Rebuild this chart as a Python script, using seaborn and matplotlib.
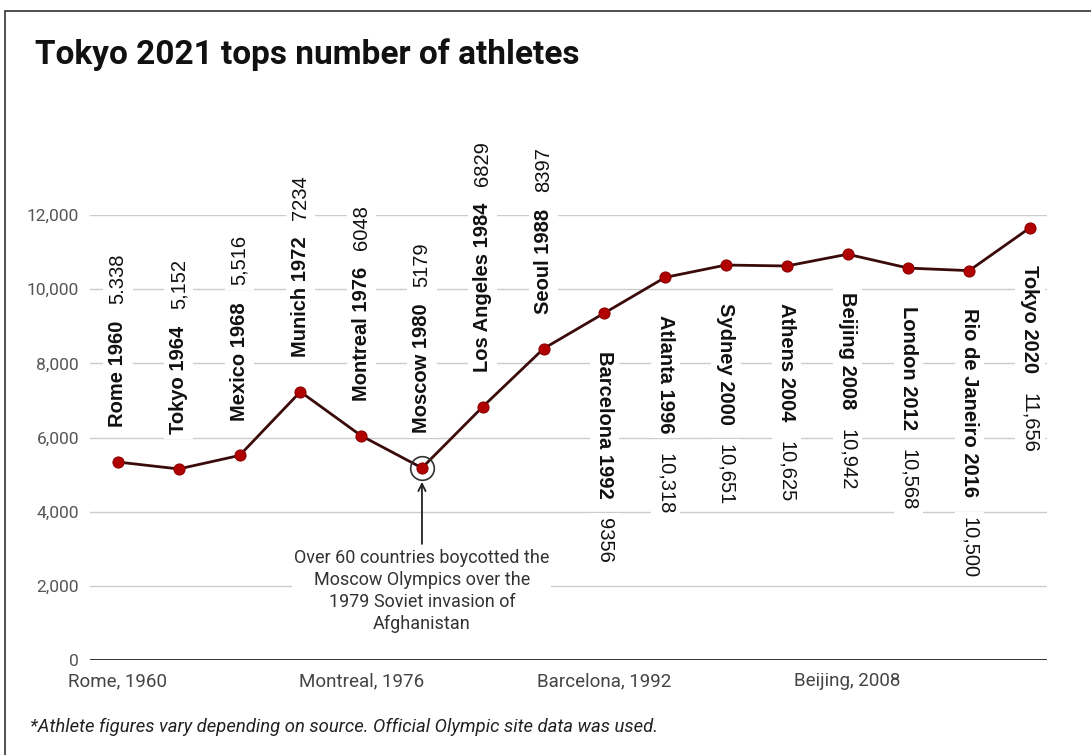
import matplotlib
matplotlib.use("Agg")
import matplotlib.pyplot as plt
import seaborn as sns
import pandas as pd
from matplotlib.patches import Rectangle

games = ["Rome 1960", "Tokyo 1964", "Mexico 1968", "Munich 1972", "Montreal 1976",
         "Moscow 1980", "Los Angeles 1984", "Seoul 1988", "Barcelona 1992",
         "Atlanta 1996", "Sydney 2000", "Athens 2004", "Beijing 2008",
         "London 2012", "Rio de Janeiro 2016", "Tokyo 2020"]
athletes = [5338, 5152, 5516, 7234, 6048, 5179, 6829, 8397, 9356,
            10318, 10651, 10625, 10942, 10568, 10500, 11656]
value_labels = ["5.338", "5,152", "5,516", "7234", "6048", "5179", "6829", "8397",
                "9356", "10,318", "10,651", "10,625", "10,942", "10,568", "10,500", "11,656"]
xtick_pos = [0, 4, 8, 12]
xtick_labels = ["Rome, 1960", "Montreal, 1976", "Barcelona, 1992", "Beijing, 2008"]
yticks = [0, 2000, 4000, 6000, 8000, 10000, 12000]
note = "Over 60 countries boycotted the\nMoscow Olympics over the\n1979 Soviet invasion of\nAfghanistan"

df = pd.DataFrame({"idx": range(len(games)), "athletes": athletes})

sns.set_theme(style="white")
plt.rcParams['font.family'] = ['Liberation Sans', 'DejaVu Sans']

fig = plt.figure(figsize=(10.91, 7.55), dpi=100)
ax = fig.add_axes([90/1091, 1-660/755, (1047-90)/1091, (660-215)/755])

sns.lineplot(data=df, x="idx", y="athletes", ax=ax, color="#3b0b0b", linewidth=2,
             marker="o", markersize=8, markerfacecolor="#b00000",
             markeredgecolor="#8a0000", zorder=3)

ax.set_xlim(-0.46, 15.28)
ax.set_ylim(0, 12000)
ax.set_yticks(yticks)
ax.set_yticklabels([f"{v:,}" for v in yticks], fontsize=12.5, color="#555555",
                   family=["Roboto", "DejaVu Sans"])
ax.set_xticks(xtick_pos)
ax.set_xticklabels(xtick_labels, fontsize=13.5, color="#444444",
                   family=["Roboto", "DejaVu Sans"])
ax.tick_params(axis="x", length=0, pad=9)
ax.tick_params(axis="y", length=0, pad=8)
ax.set_xlabel("")
ax.set_ylabel("")
for s in ax.spines.values():
    s.set_visible(False)
ax.yaxis.grid(True, color="#cccccc", linewidth=1, zorder=0)
ax.axhline(0, color="#222222", linewidth=2, zorder=2)

fig.canvas.draw()

bbox_kw = dict(boxstyle="square,pad=0.25", facecolor="white", edgecolor="none")
for i, (name, val, lab) in enumerate(zip(games, athletes, value_labels)):
    if i < 8:
        t = ax.annotate(name, xy=(i, val), xytext=(0, 25), textcoords="offset points",
                        rotation=90, ha="center", va="bottom", fontsize=14.5,
                        fontweight="bold", color="#111111", bbox=bbox_kw, zorder=4,
                        annotation_clip=False)
        ax.annotate(lab, xy=(0.5, 1.0), xycoords=t, xytext=(0, 12),
                    textcoords="offset points", rotation=90, ha="center", va="bottom",
                    fontsize=14.5, color="#111111", bbox=bbox_kw, zorder=4,
                    annotation_clip=False)
    else:
        t = ax.annotate(name, xy=(i, val), xytext=(0, -27), textcoords="offset points",
                        rotation=-90, ha="center", va="top", fontsize=14.5,
                        fontweight="bold", color="#111111", bbox=bbox_kw, zorder=4,
                        annotation_clip=False)
        ax.annotate(lab, xy=(0.5, 0.0), xycoords=t, xytext=(0, -14),
                    textcoords="offset points", rotation=-90, ha="center", va="top",
                    fontsize=14.5, color="#111111", bbox=bbox_kw, zorder=4,
                    annotation_clip=False)

# Moscow annotation
ax.plot([5], [athletes[5]], marker="o", markersize=17, markerfacecolor="none",
        markeredgecolor="#333333", markeredgewidth=1.2, linestyle="none", zorder=5)
ax.annotate(note, xy=(5, athletes[5]), xytext=(0, -58), textcoords="offset points",
            ha="center", va="top", fontsize=13, color="#333333", linespacing=1.3,
            family=["Roboto", "DejaVu Sans"],
            bbox=dict(boxstyle="square,pad=0.1", facecolor="white", edgecolor="none"),
            arrowprops=dict(arrowstyle="->", color="#222222", lw=1.3,
                            shrinkA=2, shrinkB=10), zorder=5)

fig.text(35/1091, 1-55/755, "Tokyo 2021 tops number of athletes", fontsize=24,
         fontweight="bold", color="#111111", va="center", ha="left",
         family=["Roboto", "DejaVu Sans"])
fig.text(30/1091, 1-727/755,
         "*Athlete figures vary depending on source. Official Olympic site data was used.",
         fontsize=13.3, style="italic", color="#222222", va="center", ha="left",
         family=["Roboto", "DejaVu Sans"])

fig.patches.append(Rectangle((5/1091, -0.02), 1.05, 1-11/755 + 0.02,
                             transform=fig.transFigure, fill=False,
                             edgecolor="#333333", linewidth=1.2))

fig.savefig("out.png", dpi=100)
